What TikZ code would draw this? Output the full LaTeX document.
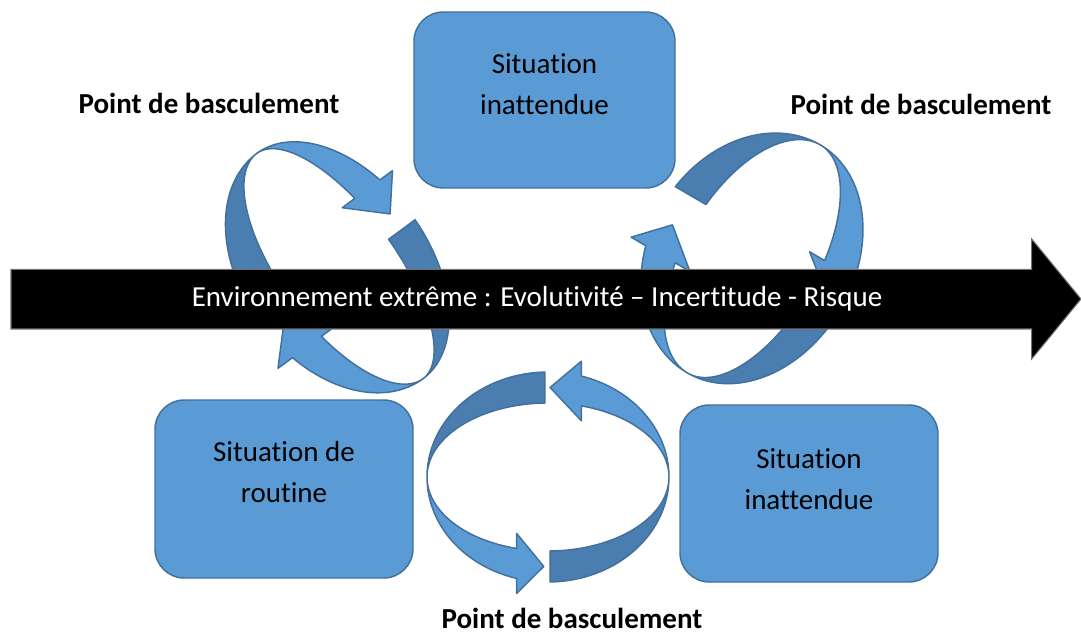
\documentclass[tikz,border=0pt]{standalone}
\usepackage{fontspec}
\setmainfont[Ligatures={NoCommon}]{Carlito}
\usetikzlibrary{calc}
\definecolor{lightblue}{HTML}{5B9BD5}
\definecolor{darkblue}{HTML}{4A7DB0}
\definecolor{edgeblue}{HTML}{41719C}
\newcommand\SetRing[4]{\def\Rcx{#1}\def\Rcy{#2}\def\Ra{#4}%
  \pgfmathsetmacro\Rc{cos(#3)}\pgfmathsetmacro\Rs{sin(#3)}}
% #1 tail angle, #2 pinch angle, #3 head-base angle, #4 tip angle,
% #5/#6 outer/inner b of dark half, #7/#8 outer/inner b of light half
\newcommand\CArrow[8]{%
  \filldraw[ringdark] plot[domain=#1:#2,samples=60,variable=\t]
     ({\Rcx+\Ra*cos(\t)*\Rc-(#5)*sin(\t)*\Rs},{\Rcy+\Ra*cos(\t)*\Rs+(#5)*sin(\t)*\Rc})
     -- plot[domain=#2:#1,samples=60,variable=\t]
     ({\Rcx+\Ra*cos(\t)*\Rc-(#6)*sin(\t)*\Rs},{\Rcy+\Ra*cos(\t)*\Rs+(#6)*sin(\t)*\Rc}) -- cycle;
  \coordinate (ho) at ({\Rcx+\Ra*cos(#3)*\Rc-(#7)*sin(#3)*\Rs},{\Rcy+\Ra*cos(#3)*\Rs+(#7)*sin(#3)*\Rc});
  \coordinate (hi) at ({\Rcx+\Ra*cos(#3)*\Rc-(#8)*sin(#3)*\Rs},{\Rcy+\Ra*cos(#3)*\Rs+(#8)*sin(#3)*\Rc});
  \coordinate (htip) at ({\Rcx+\Ra*cos(#4)*\Rc-((#7)+(#8))/2*sin(#4)*\Rs},{\Rcy+\Ra*cos(#4)*\Rs+((#7)+(#8))/2*sin(#4)*\Rc});
  \filldraw[ringlight] plot[domain=#2:#3,samples=60,variable=\t]
     ({\Rcx+\Ra*cos(\t)*\Rc-(#7)*sin(\t)*\Rs},{\Rcy+\Ra*cos(\t)*\Rs+(#7)*sin(\t)*\Rc})
     -- ($(ho)!-0.5!(hi)$) -- (htip) -- ($(hi)!-0.5!(ho)$)
     -- plot[domain=#3:#2,samples=60,variable=\t]
     ({\Rcx+\Ra*cos(\t)*\Rc-(#8)*sin(\t)*\Rs},{\Rcy+\Ra*cos(\t)*\Rs+(#8)*sin(\t)*\Rc}) -- cycle;
}
\begin{document}
\begin{tikzpicture}[x=0.75pt,y=-0.75pt,
  ringdark/.style={fill=darkblue,draw=edgeblue,line width=1.1pt,line join=round},
  ringlight/.style={fill=lightblue,draw=edgeblue,line width=1.1pt,line join=round},
  box/.style={draw=edgeblue,fill=lightblue,line width=1.1pt,rounded corners=22pt,
    minimum width=#1,minimum height=132pt,inner sep=0pt},
  txt/.style={align=center,font=\fontsize{21.75}{30.75}\selectfont,inner sep=0pt},
  lbl/.style={font=\fontsize{21.75}{30.75}\selectfont\bfseries,inner sep=0pt},
  bigarrow/.style={fill=black,draw=black!55,line width=0.8pt}]
\useasboundingbox (0,0) rectangle (1081,634);
\fill[white] (0,0) rectangle (1081,634);

% rings
\SetRing{340}{266}{53.6}{140}
\CArrow{93}{180}{251}{265}{98}{60}{88}{55}
\CArrow{273}{360}{431}{445}{88}{55}{98}{60}
\SetRing{754}{259}{-59.8}{132}
\CArrow{280}{360}{435}{448}{106}{70}{100}{64}
\CArrow{98}{180}{251}{265}{100}{64}{106}{70}
\SetRing{548}{477}{0}{121}
\CArrow{268.5}{180}{105}{92}{105}{74}{105}{74}
\CArrow{89}{0}{-74}{-89}{105}{74}{105}{74}

% big arrow
\draw[bigarrow] (11,269.3) -- (1031.7,269.3) -- (1031.7,239) -- (1081,299)
  -- (1031.7,359) -- (1031.7,329) -- (11,329) -- cycle;
\node[txt,text=white] (bartxt) at (537,299) {Environnement extrême : Evolutivité – Incertitude - Risque};

% boxes
\node[box=195.75pt] (top) at (544.5,100) {};
\node[txt] (toptxt) at (544.5,84.5) {Situation\\inattendue};
\node[box=193.5pt,minimum height=133.5pt] (routine) at (284,489) {};
\node[txt] (routinetxt) at (284,472.5) {Situation de\\routine};
\node[box=193.5pt,minimum height=132.75pt] (inatt) at (809,493.5) {};
\node[txt] (inatttxt) at (809,479) {Situation\\inattendue};

% labels
\node[lbl] (lblL) at (209,103) {Point de basculement};
\node[lbl] (lblR) at (921,104) {Point de basculement};
\node[lbl] (lblB) at (572,618) {Point de basculement};
\end{tikzpicture}
\end{document}
